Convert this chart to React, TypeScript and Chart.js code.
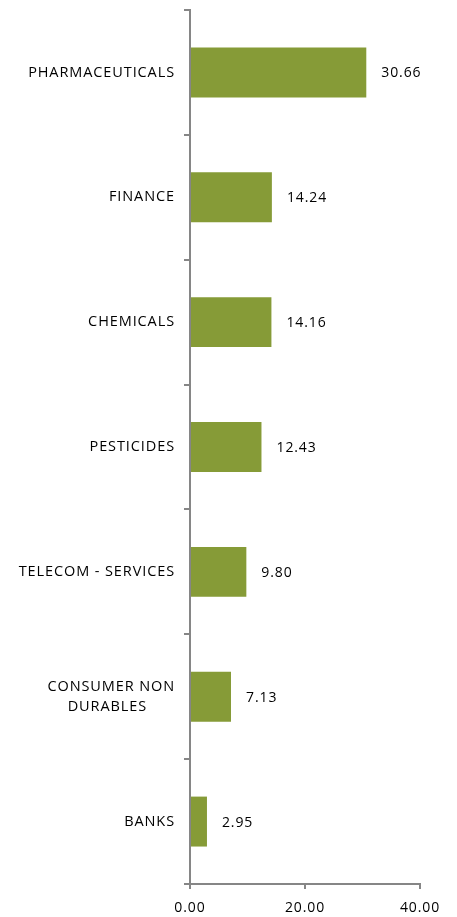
import React, { useEffect, useRef } from "react";
import { Chart, registerables } from "chart.js";

Chart.register(...registerables);

const categories: (string | string[])[] = [
  "PHARMACEUTICALS",
  "FINANCE",
  "CHEMICALS",
  "PESTICIDES",
  "TELECOM - SERVICES",
  ["CONSUMER NON", "DURABLES      "],
  "BANKS",
];
const values: number[] = [30.66, 14.24, 14.16, 12.43, 9.8, 7.13, 2.95];
const xTicks: number[] = [0, 20, 40];

const FONT = "'Open Sans', 'Noto Sans', sans-serif";
const AXIS = "#868686";

const spacingPlugin = {
  id: "spacing",
  beforeUpdate(chart: any) {
    (chart.ctx as any).letterSpacing = "0.9px";
  },
  beforeDraw(chart: any) {
    (chart.ctx as any).letterSpacing = "0.9px";
  },
};

const labelPlugin = {
  id: "barLabels",
  afterDatasetsDraw(chart: any) {
    const ctx = chart.ctx;
    const meta = chart.getDatasetMeta(0);
    ctx.save();
    ctx.font = `14px ${FONT}`;
    ctx.fillStyle = "#000";
    ctx.textAlign = "left";
    ctx.textBaseline = "middle";
    meta.data.forEach((bar: any, i: number) => {
      ctx.fillText(values[i].toFixed(2), bar.x + 15, bar.y + 1);
    });
    ctx.restore();
  },
};

export default function App() {
  const ref = useRef<HTMLCanvasElement>(null);
  useEffect(() => {
    document.body.style.margin = "0";
    const chart = new Chart(ref.current!, {
      type: "bar",
      data: {
        labels: categories,
        datasets: [
          {
            data: values,
            backgroundColor: "#869b37",
            borderWidth: 0,
            barPercentage: 0.4,
            categoryPercentage: 1,
          },
        ],
      },
      options: {
        indexAxis: "y",
        animation: false,
        responsive: false,
        devicePixelRatio: 1,
        layout: { padding: { top: 10, right: 37, left: 0, bottom: 0 } },
        plugins: { legend: { display: false }, tooltip: { enabled: false } },
        scales: {
          x: {
            min: 0,
            max: 40,
            afterBuildTicks(scale: any) {
              scale.ticks = xTicks.map((v) => ({ value: v }));
            },
            afterFit(scale: any) {
              scale.height = 33;
              scale.paddingLeft = 0;
              scale.paddingRight = 0;
            },
            grid: {
              drawOnChartArea: false,
              drawTicks: true,
              tickLength: 5,
              color: AXIS,
              lineWidth: 2,
            },
            border: { color: AXIS, width: 2 },
            ticks: {
              color: "#000",
              font: { family: FONT, size: 14 },
              padding: 11,
              maxRotation: 0,
              callback: (v: any) => Number(v).toFixed(2),
            },
          },
          y: {
            afterFit(scale: any) {
              scale.width = 190;
              scale.paddingTop = 0;
              scale.paddingBottom = 0;
            },
            grid: {
              drawOnChartArea: false,
              drawTicks: true,
              tickLength: 6,
              offset: true,
              color: AXIS,
              lineWidth: 2,
            },
            border: { color: AXIS, width: 2 },
            ticks: {
              color: "#000",
              font: { family: FONT, size: 14.5, lineHeight: 1.38 },
              padding: 9,
              crossAlign: "near",
            },
          },
        },
      },
      plugins: [spacingPlugin, labelPlugin],
    });
    return () => chart.destroy();
  }, []);
  return (
    <div style={{ width: 457, height: 917 }}>
      <canvas ref={ref} width={457} height={917} style={{ display: "block" }} />
    </div>
  );
}
